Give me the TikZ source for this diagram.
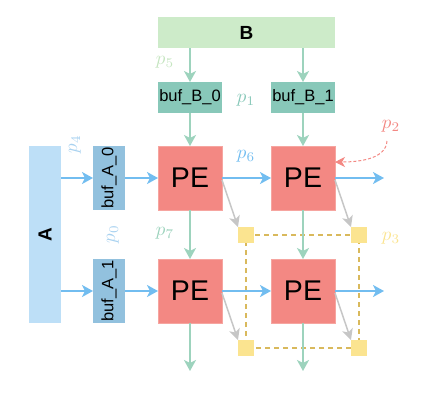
\documentclass[tikz,border=0pt]{standalone}
\usepackage[no-math]{fontspec}
\setmainfont{Liberation Sans}
\usetikzlibrary{arrows.meta}
\definecolor{cBfill}{HTML}{CDEBC9}
\definecolor{cBbuf}{HTML}{88C8B9}
\definecolor{cPE}{HTML}{F38883}
\definecolor{cPEd}{HTML}{F6A5A0}
\definecolor{cAfill}{HTML}{BDDFF7}
\definecolor{cAbuf}{HTML}{92C1DE}
\definecolor{cY}{HTML}{FBE490}
\definecolor{cYd}{HTML}{D9B95C}
\definecolor{cGr}{HTML}{9DD3BD}
\definecolor{cBl}{HTML}{72BDF0}
\definecolor{cGy}{HTML}{C6C6C6}
\definecolor{cp5}{HTML}{C5E5C0}
\definecolor{cp4}{HTML}{A9D2F0}
\newcommand{\plab}[1]{\scalebox{1.9}{$p_{#1}$}}
\begin{document}
\begin{tikzpicture}[x=1pt,y=-1pt,
  box/.style={inner sep=0pt, outer sep=0pt, anchor=center},
  pe/.style={box, fill=cPE, draw=cPEd, line width=0.8pt, minimum width=64pt, minimum height=64pt, font=\fontsize{28.5}{30}\selectfont},
  bufb/.style={box, fill=cBbuf, minimum width=64pt, minimum height=31pt, font=\fontsize{16.5}{18}\selectfont},
  bufa/.style={box, fill=cAbuf, minimum width=32pt, minimum height=64pt, font=\fontsize{16.5}{18}\selectfont},
  ysq/.style={box, fill=cY, minimum size=16pt},
  lab/.style={inner sep=0pt},
  tip/.style={-{Stealth[length=11pt,width=12pt,inset=3pt]}},
  garr/.style={tip, draw=cGr, line width=2pt},
  barr/.style={tip, draw=cBl, line width=2pt},
  gyarr/.style={-{Stealth[length=11pt,width=11pt,inset=3pt]}, draw=cGy, line width=1.5pt},
]
\useasboundingbox (0,0) rectangle (429,400);
% boxes
\node[box, fill=cBfill, minimum width=177pt, minimum height=31pt, font=\fontsize{19}{22}\selectfont\bfseries] (B) at (246.5,32.5) {B};
\node[box, fill=cAfill, minimum width=32pt, minimum height=177pt, font=\fontsize{19}{22}\selectfont\bfseries] (A) at (45,234.5) {\rotatebox{90}{A}};
\node[bufb] (bb0) at (190,97.5) {buf\_B\_0};
\node[bufb] (bb1) at (303,97.5) {buf\_B\_1};
\node[bufa] (ba0) at (109,178) {\rotatebox{90}{buf\_A\_0}};
\node[bufa] (ba1) at (109,291) {\rotatebox{90}{buf\_A\_1}};
\node[pe] (p00) at (190,178) {PE};
\node[pe] (p01) at (303,178) {PE};
\node[pe] (p10) at (190,291) {PE};
\node[pe] (p11) at (303,291) {PE};
% yellow squares and dashed frame
\coordinate (yc00) at (246,235);
\coordinate (yc01) at (359,235);
\coordinate (yc10) at (246,348);
\coordinate (yc11) at (359,348);
\draw[cYd, line width=1.5pt, dash pattern=on 5pt off 4pt] (yc00) -- (yc01) -- (yc11) -- (yc10) -- cycle;
\node[ysq] (y00) at (yc00) {};
\node[ysq] (y01) at (yc01) {};
\node[ysq] (y10) at (yc10) {};
\node[ysq] (y11) at (yc11) {};
% coordinates for free ends
\coordinate (Bx0) at (190,48);
\coordinate (Bx1) at (303,48);
\coordinate (Ay0) at (61,178);
\coordinate (Ay1) at (61,291);
\coordinate (e0) at (384,178);
\coordinate (e1) at (384,291);
\coordinate (s0) at (190,371);
\coordinate (s1) at (303,371);
% vertical green arrows
\draw[garr] (Bx0) -- (bb0.north);
\draw[garr] (Bx1) -- (bb1.north);
\draw[garr] (bb0) -- (p00);
\draw[garr] (bb1) -- (p01);
\draw[garr] (p00) -- (p10);
\draw[garr] (p01) -- (p11);
\draw[garr] (p10.south) -- (s0);
\draw[garr] (p11.south) -- (s1);
% horizontal blue arrows
\draw[barr] (Ay0) -- (ba0.west);
\draw[barr] (Ay1) -- (ba1.west);
\draw[barr] (ba0) -- (p00);
\draw[barr] (ba1) -- (p10);
\draw[barr] (p00) -- (p01);
\draw[barr] (p10) -- (p11);
\draw[barr] (p01.east) -- (e0);
\draw[barr] (p11.east) -- (e1);
% gray arrows
\draw[gyarr] ([yshift=-2pt]p00.east) -- (y00.north west);
\draw[gyarr] ([yshift=-2pt]p01.east) -- (y01.north west);
\draw[gyarr] ([yshift=-2pt]p10.east) -- (y10.north west);
\draw[gyarr] ([yshift=-2pt]p11.east) -- (y11.north west);
% red dashed arrow
\coordinate (r0) at (387,141);
\draw[cPE, line width=1pt, dash pattern=on 3pt off 2pt, -{Stealth[length=10pt,width=10pt,inset=3pt]}] (r0) .. controls (386,158) and (362,162) .. ([yshift=16pt]p01.east);
% labels
\node[lab, text=cp5] (l5) at (165,62) {\plab{5}};
\node[lab, text=cBbuf] (l1) at (246,100) {\plab{1}};
\node[lab, text=cp4, rotate=90] (l4) at (75,144) {\plab{4}};
\node[lab, text=cp4, rotate=90] (l0) at (113,234) {\plab{0}};
\node[lab, text=cBl] (l6) at (246,156) {\plab{6}};
\node[lab, text=cGr] (l7) at (165,233) {\plab{7}};
\node[lab, text=cPE] (l2) at (391,126) {\plab{2}};
\node[lab, text=cY] (l3) at (391,238) {\plab{3}};
\end{tikzpicture}
\end{document}
